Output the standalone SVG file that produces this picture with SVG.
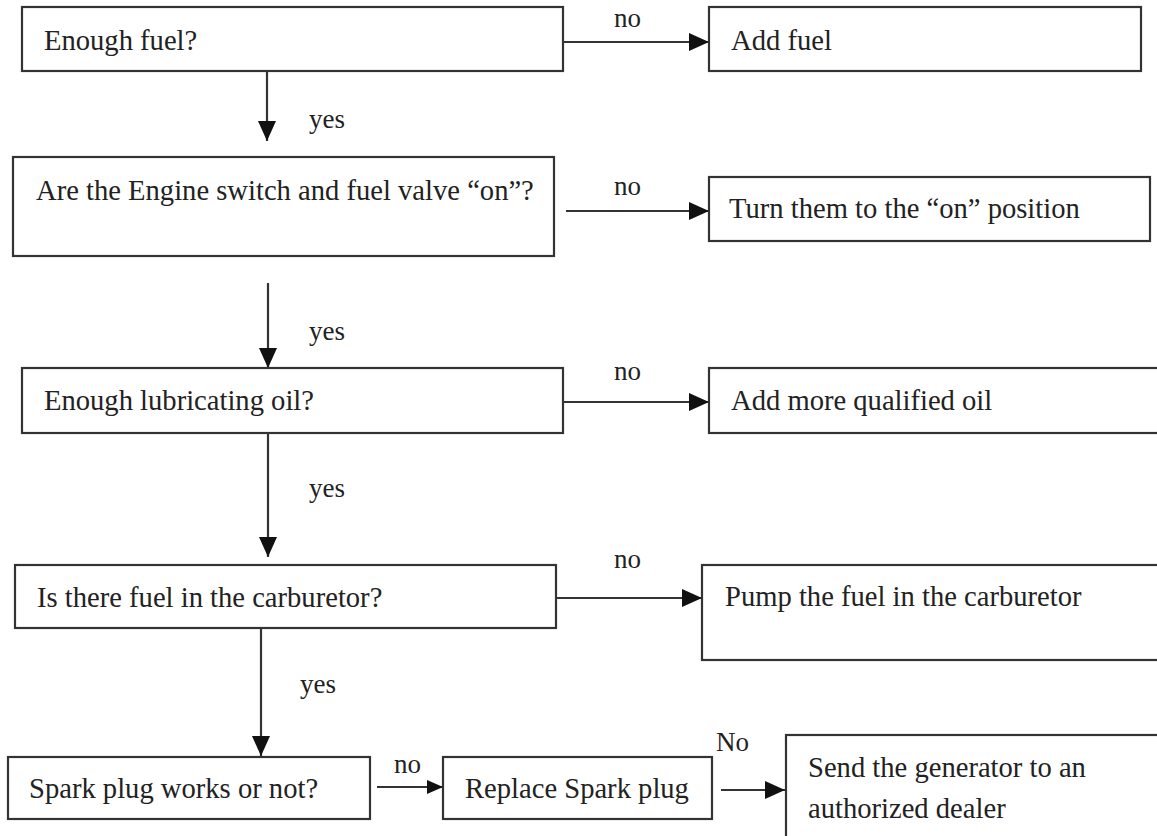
<svg xmlns="http://www.w3.org/2000/svg" width="1157" height="836" viewBox="0 0 1157 836">
<style>
.box{fill:#fff;stroke:#333;stroke-width:2.2}
.t{font-family:"Liberation Serif","Times New Roman",serif;font-size:28.6px;fill:#222}
.l{font-family:"Liberation Serif","Times New Roman",serif;font-size:27px;fill:#222}
.c{stroke:#333;stroke-width:2.2;fill:none;marker-end:url(#ah)}
.cs{stroke:#333;stroke-width:2.2;fill:none;marker-end:url(#ahs)}
</style>
<defs>
<marker id="ah" markerUnits="userSpaceOnUse" markerWidth="22" markerHeight="20" refX="20" refY="9" orient="auto" viewBox="0 0 22 18">
<path d="M0,0 L20,9 L0,18 Z" fill="#111"/>
</marker>
<marker id="ahs" markerUnits="userSpaceOnUse" markerWidth="18" markerHeight="16" refX="16" refY="7" orient="auto" viewBox="0 0 18 14">
<path d="M0,0 L16,7 L0,14 Z" fill="#111"/>
</marker>
</defs>
<rect width="1157" height="836" fill="#fff"/>
<g id="connectors">
<line class="c" x1="564" y1="42" x2="709" y2="42"/>
<line class="c" x1="267" y1="71" x2="267" y2="141"/>
<line class="c" x1="566" y1="211" x2="709" y2="211"/>
<line class="c" x1="268" y1="283" x2="268" y2="368"/>
<line class="c" x1="563" y1="402" x2="709" y2="402"/>
<line class="c" x1="268" y1="433" x2="268" y2="557"/>
<line class="c" x1="556" y1="598" x2="702" y2="598"/>
<line class="c" x1="261" y1="628" x2="261" y2="756"/>
<line class="cs" x1="377" y1="787" x2="443" y2="787"/>
<line class="c" x1="721" y1="790" x2="785" y2="790"/>
<text class="l" x="614" y="27">no</text>
<text class="l" x="309" y="128">yes</text>
<text class="l" x="614" y="195">no</text>
<text class="l" x="309" y="340">yes</text>
<text class="l" x="614" y="380">no</text>
<text class="l" x="309" y="497">yes</text>
<text class="l" x="614" y="568">no</text>
<text class="l" x="300" y="693">yes</text>
<text class="l" x="394" y="773">no</text>
<text class="l" x="716" y="751">No</text>
</g>
<g id="n1"><rect class="box" x="22" y="7" width="541" height="64"/><text class="t" x="44" y="50">Enough fuel?</text></g>
<g id="n2"><rect class="box" x="709" y="7" width="432" height="64"/><text class="t" x="731" y="50">Add fuel</text></g>
<g id="n3"><rect class="box" x="13" y="157" width="541" height="99"/><text class="t" x="36" y="200">Are the Engine switch and fuel valve “on”?</text></g>
<g id="n4"><rect class="box" x="709" y="177" width="441" height="64"/><text class="t" x="729" y="218">Turn them to the “on” position</text></g>
<g id="n5"><rect class="box" x="22" y="368" width="541" height="65"/><text class="t" x="44" y="410">Enough lubricating oil?</text></g>
<g id="n6"><rect class="box" x="709" y="368" width="460" height="65"/><text class="t" x="731" y="410">Add more qualified oil</text></g>
<g id="n7"><rect class="box" x="15" y="565" width="541" height="63"/><text class="t" x="37" y="607">Is there fuel in the carburetor?</text></g>
<g id="n8"><rect class="box" x="702" y="565" width="470" height="95"/><text class="t" x="725" y="606">Pump the fuel in the carburetor</text></g>
<g id="n9"><rect class="box" x="8" y="757" width="362" height="62"/><text class="t" x="29" y="798">Spark plug works or not?</text></g>
<g id="n10"><rect class="box" x="443" y="757" width="269" height="62"/><text class="t" x="465" y="798">Replace Spark plug</text></g>
<g id="n11"><rect class="box" x="786" y="735" width="390" height="120"/><text class="t" x="808" y="777">Send the generator to an</text><text class="t" x="808" y="818">authorized dealer</text></g>
</svg>
